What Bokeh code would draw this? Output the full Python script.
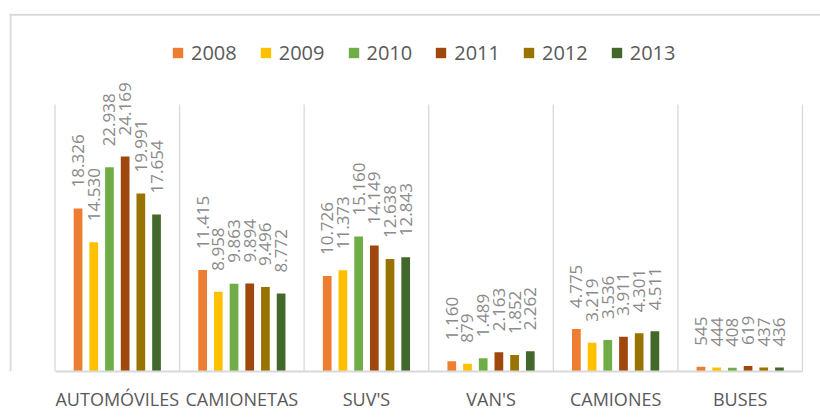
import numpy as np
from bokeh.plotting import figure
from bokeh.models import (ColumnDataSource, Range1d, FixedTicker, Legend, LegendItem, Span,
                          InlineStyleSheet)
from bokeh.core.properties import value
from bokeh.embed import file_html
from bokeh.resources import INLINE

categories = ["AUTOMÓVILES", "CAMIONETAS", "SUV'S", "VAN'S", "CAMIONES", "BUSES"]
years = ["2008", "2009", "2010", "2011", "2012", "2013"]
v2008 = [18326, 11415, 10726, 1160, 4775, 545]
v2009 = [14530, 8958, 11373, 879, 3219, 444]
v2010 = [22938, 9863, 15160, 1489, 3536, 408]
v2011 = [24169, 9894, 14149, 2163, 3911, 619]
v2012 = [19991, 9496, 12638, 1852, 4301, 437]
v2013 = [17654, 8772, 12843, 2262, 4511, 436]
series = [v2008, v2009, v2010, v2011, v2012, v2013]
colors = ["#ED7D31", "#FFC000", "#70AD47", "#9E480E", "#997300", "#43682B"]
Y_MAX = 30000  # value-axis maximum

FONT = value("Open Sans")
n_cat = len(categories)
n_ser = len(years)
slot = 0.126
bar_w = 0.07

# layout (pixels)
W, H = 820, 419
frame_l, frame_t, base_y = 9, 13, 371
cat_l, cat_r, top_y = 54.5, 802.0, 104.0
px_per_cat = (cat_r - cat_l) / n_cat
px_per_val = Y_MAX / (base_y - top_y)
x0 = -(cat_l - frame_l) / px_per_cat
x1 = (W - cat_l) / px_per_cat
y1 = (base_y - frame_t) * px_per_val

p = figure(width=W, height=H, x_range=Range1d(x0, x1), y_range=Range1d(0, y1),
           output_backend="svg", toolbar_location=None, y_axis_location=None,
           min_border_left=frame_l, min_border_right=0, min_border_top=frame_t,
           min_border_bottom=H - base_y)
p.outline_line_color = None
p.background_fill_color = "white"
p.border_fill_color = "white"
p.xgrid.grid_line_color = None
p.ygrid.grid_line_color = None
p.stylesheets = [InlineStyleSheet(css=(
    'text[font-size="18px"], text[font-size="18"] { letter-spacing: 3.2px; }'
))]

# chart frame (left and top edges)
p.add_layout(Span(location=x0 + 1.0 / px_per_cat, dimension="height",
                  line_color="#d9d9d9", line_width=2))
p.add_layout(Span(location=y1 - 1.3 * px_per_val, dimension="width",
                  line_color="#d9d9d9", line_width=2))

# category separators
bounds = np.arange(n_cat + 1)
p.segment(x0=bounds, x1=bounds, y0=np.zeros(n_cat + 1), y1=np.full(n_cat + 1, Y_MAX),
          line_color="#d9d9d9", line_width=1.3)

centers = np.arange(n_cat) + 0.5
items = []
for i, (yr, vals, col) in enumerate(zip(years, series, colors)):
    xs = centers + (i - (n_ser - 1) / 2) * slot
    src = ColumnDataSource(dict(x=xs, top=vals,
                                lab=[f"{v:,}".replace(",", ".") for v in vals]))
    r = p.vbar(x="x", top="top", width=bar_w, source=src, fill_color=col, line_color=None)
    p.text(x="x", y="top", text="lab", source=src, angle=np.pi / 2,
           text_align="left", text_baseline="middle", y_offset=-21,
           text_font=FONT, text_font_size="17px", text_color="#8a8a8a")
    items.append(LegendItem(label=yr, renderers=[r]))

legend = Legend(items=items, orientation="horizontal", location=(162, 305),
                glyph_width=13, glyph_height=13, label_standoff=7, spacing=22,
                padding=0, margin=0, border_line_color=None, background_fill_alpha=0,
                label_text_font="Open Sans", label_text_font_size="20px",
                label_text_color="#595959")
p.add_layout(legend)

ax = p.xaxis[0]
ax.bounds = (0, n_cat)
ax.ticker = FixedTicker(ticks=list(centers))
ax.major_label_overrides = {float(c): name for c, name in zip(centers, categories)}
ax.major_tick_line_color = None
ax.minor_tick_line_color = None
ax.axis_line_color = "#d9d9d9"
ax.axis_line_width = 2
ax.major_label_text_font = "Open Sans"
ax.major_label_text_font_size = "18px"
ax.major_label_text_color = "#595959"
ax.major_label_standoff = 9

open("out.html", "w").write(file_html(p, INLINE))
